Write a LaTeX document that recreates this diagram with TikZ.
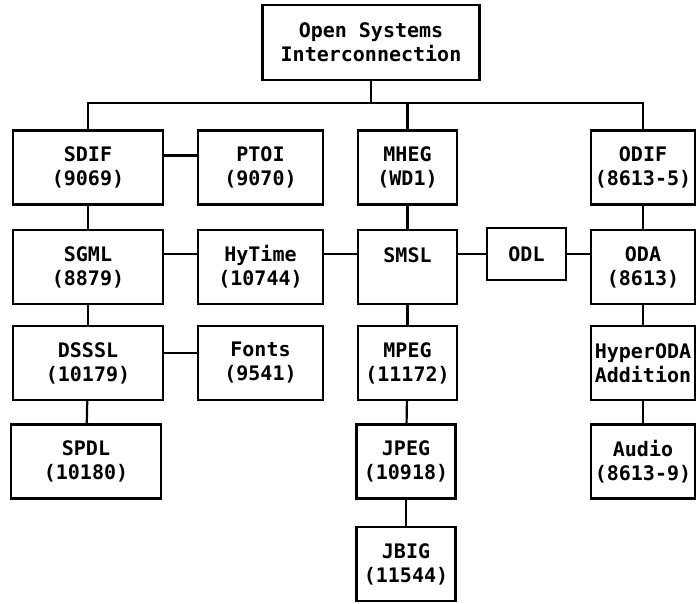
\documentclass[tikz,border=0pt]{standalone}
\usepackage{fontspec}
\newfontfamily\stdfont{DejaVu Sans Mono}
\tikzset{
	stdbox/.style={draw, line width=2.2pt, align=center, inner sep=0pt, minimum height=74pt, font=\stdfont\bfseries\fontsize{20}{24}\selectfont},
	link/.style={line width=2.2pt}
}
\begin{document}
\begin{tikzpicture}[x=1pt,y=-1pt]
	\useasboundingbox (0,0) rectangle (697,604);
	\node[stdbox, minimum width=217pt, minimum height=75pt] (osi) at (371,42.5) {Open Systems\\Interconnection};
	\coordinate (bus) at (372,103);
	% left column
	\node[stdbox, minimum width=150pt] (sdif) at (88,167.5) {SDIF\\(9069)};
	\node[stdbox, minimum width=150pt] (sgml) at (88,267) {SGML\\(8879)};
	\node[stdbox, minimum width=150pt] (dsssl) at (88,363) {DSSSL\\(10179)};
	\node[stdbox, minimum width=150pt] (spdl) at (86,461.5) {SPDL\\(10180)};
	\node[stdbox, minimum width=125pt] (ptoi) at (260.5,167.5) {PTOI\\(9070)};
	\node[stdbox, minimum width=125pt] (hytime) at (260.5,267) {HyTime\\(10744)};
	\node[stdbox, minimum width=125pt] (fonts) at (260.5,363) {Fonts\\(9541)};
	% middle column
	\node[stdbox, minimum width=99pt] (mheg) at (407.5,167.5) {MHEG\\(WD1)};
	\node[stdbox, minimum width=99pt] (smsl) at (407.5,267) {SMSL\\~};
	\node[stdbox, minimum width=99pt] (mpeg) at (407.5,363) {MPEG\\(11172)};
	\node[stdbox, minimum width=99pt] (jpeg) at (406,461.5) {JPEG\\(10918)};
	\node[stdbox, minimum width=99pt] (jbig) at (406,564) {JBIG\\(11544)};
	\node[stdbox, minimum width=79pt, minimum height=52pt] (odl) at (526.5,254) {ODL};
	% right column
	\node[stdbox, minimum width=104pt] (odif) at (643,167.5) {ODIF\\(8613-5)};
	\node[stdbox, minimum width=104pt] (oda) at (643,267) {ODA\\(8613)};
	\node[stdbox, minimum width=104pt] (hoda) at (643,363) {HyperODA\\Addition};
	\node[stdbox, minimum width=104pt] (audio) at (643,461.5) {Audio\\(8613-9)};
	\draw[link] (osi.south) -- (osi.south |- bus);
	\draw[link] (sdif.north) |- (odif.north |- bus) -- (odif.north);
	\draw[link] (mheg.north) -- (mheg.north |- bus);
	\foreach \a/\b in {sdif/sgml, sgml/dsssl, dsssl/spdl, mheg/smsl, smsl/mpeg, mpeg/jpeg, jpeg/jbig, odif/oda, oda/hoda, hoda/audio}
	\draw[link] (\a) -- (\b);
	\draw[link] ([yshift=12pt]sdif.east) -- ([yshift=12pt]ptoi.west);
	\draw[link] ([yshift=10pt]dsssl.east) -- ([yshift=10pt]fonts.west);
	\foreach \a/\b in {sgml/hytime, hytime/smsl, smsl/odl, odl/oda}
	\draw[link] (\a.east |- odl) -- (\b.west |- odl);
\end{tikzpicture}
\end{document}
